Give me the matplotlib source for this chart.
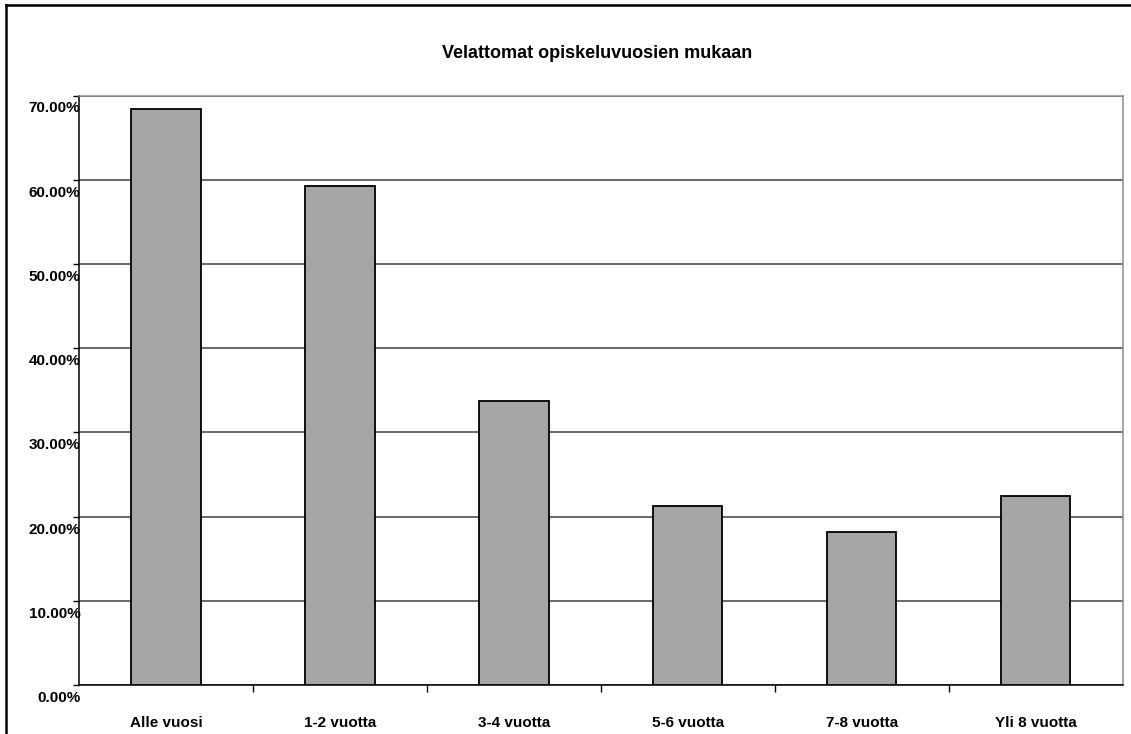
import matplotlib
matplotlib.use("Agg")
import matplotlib.pyplot as plt
from matplotlib.ticker import PercentFormatter, MultipleLocator
from matplotlib.transforms import ScaledTranslation
from matplotlib.lines import Line2D

categories = ["Alle vuosi", "1-2 vuotta", "3-4 vuotta", "5-6 vuotta", "7-8 vuotta", "Yli 8 vuotta"]
values = [68.4, 59.3, 33.7, 21.2, 18.2, 22.5]

plt.rcParams['font.family'] = ['Liberation Sans', 'DejaVu Sans']
plt.rcParams['font.weight'] = 'bold'

fig = plt.figure(figsize=(11.31, 7.34), dpi=100)
ax = fig.add_axes([79/1131, 49/734, 1043.5/1131, 589.5/734])

x = list(range(len(categories)))
ax.bar(x, values, width=0.4, color="#a6a6a6", edgecolor="black", linewidth=1.3, zorder=3)

ax.set_xlim(-0.5, len(categories) - 0.5)
ax.set_ylim(0, 70)
ax.yaxis.set_major_locator(MultipleLocator(10))
ax.yaxis.set_major_formatter(PercentFormatter(xmax=100, decimals=2))
ax.grid(axis='y', color="#404040", linewidth=1.1, zorder=1)

# Achsen im Excel-Stil
ax.spines['left'].set_color('black')
ax.spines['bottom'].set_color('black')
ax.spines['top'].set_color('#8c8c8c')
ax.spines['right'].set_color('#8c8c8c')
for s in ax.spines.values():
    s.set_linewidth(1.1)

ax.set_xticks(x)
ax.set_xticklabels(categories, fontsize=11, fontweight='bold')
ax.tick_params(axis='x', length=0, pad=22)
ax.set_xticks([k + 0.5 for k in x[:-1]], minor=True)
ax.tick_params(axis='x', which='minor', length=5, width=1, direction='out', color='black')

ax.tick_params(axis='y', length=4, width=1, direction='out', labelsize=11, pad=-5)
offset = ScaledTranslation(0, -0.115, fig.dpi_scale_trans)
for lab in ax.get_yticklabels():
    lab.set_fontweight('bold')
    lab.set_transform(lab.get_transform() + offset)

fig.text(597/1131, 1 - 53/734, "Velattomat opiskeluvuosien mukaan",
         ha='center', va='center', fontsize=13, fontweight='bold')

# Rahmen links und oben
fig.add_artist(Line2D([6/1131, 6/1131], [0, 1 - 5/734], color='black', linewidth=1.8,
                      transform=fig.transFigure))
fig.add_artist(Line2D([6/1131, 1], [1 - 5/734, 1 - 5/734], color='black', linewidth=1.8,
                      transform=fig.transFigure))

plt.savefig("out.png", dpi=100)
